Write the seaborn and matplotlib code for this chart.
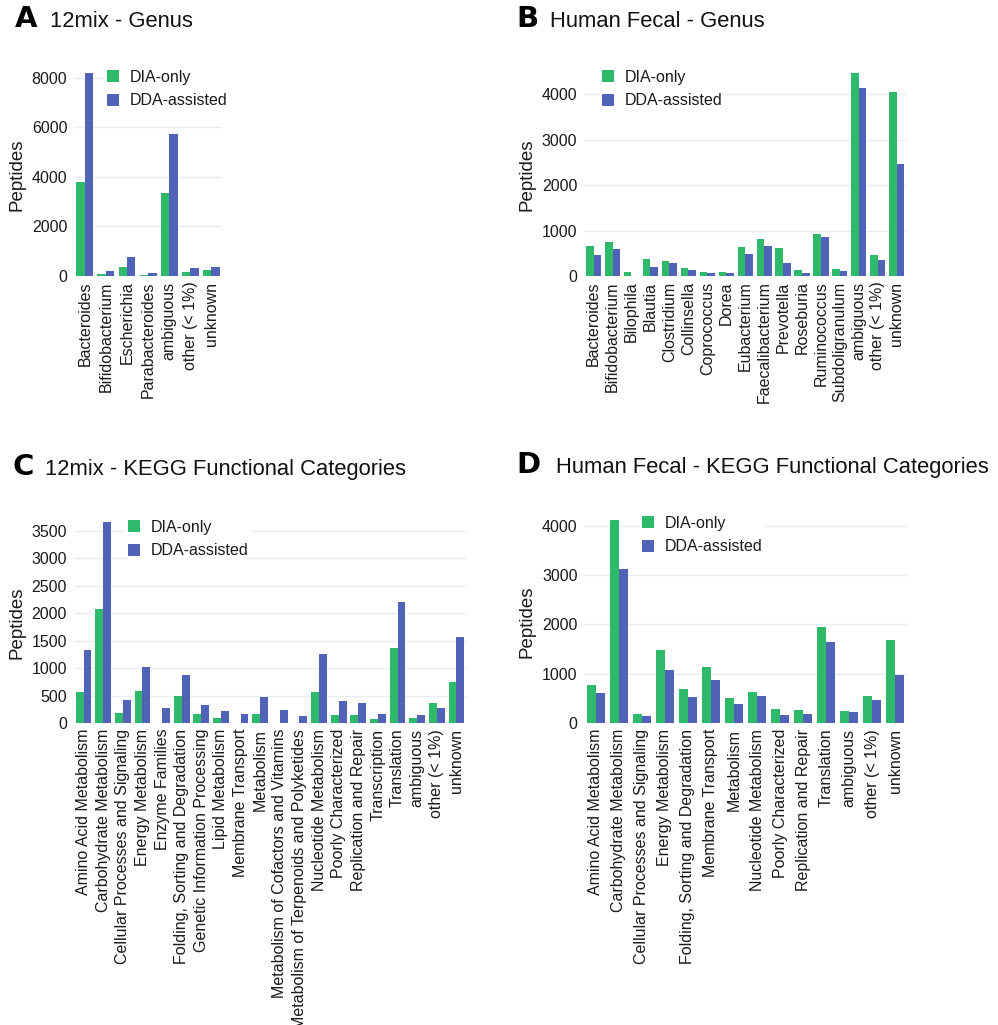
import matplotlib
matplotlib.use("Agg")
import matplotlib.pyplot as plt
import seaborn as sns
import pandas as pd

sns.set_theme(style="white")
plt.rcParams['font.family'] = ['Liberation Sans', 'DejaVu Sans']

series = ["DIA-only", "DDA-assisted"]
colors = ["#2fb96b", "#5063b7"]

# Panel A: 12mix - Genus
a_cats = ["Bacteroides", "Bifidobacterium", "Escherichia", "Parabacteroides",
          "ambiguous", "other (< 1%)", "unknown"]
a_dia = [3800, 80, 350, 50, 3340, 150, 230]
a_dda = [8210, 210, 755, 135, 5750, 335, 375]

# Panel B: Human Fecal - Genus
b_cats = ["Bacteroides", "Bifidobacterium", "Bilophila", "Blautia", "Clostridium",
          "Collinsella", "Coprococcus", "Dorea", "Eubacterium", "Faecalibacterium",
          "Prevotella", "Roseburia", "Ruminococcus", "Subdoligranulum",
          "ambiguous", "other (< 1%)", "unknown"]
b_dia = [652, 740, 80, 366, 337, 176, 88, 88, 637, 806, 623, 139, 916, 161,
         4470, 462, 4040]
b_dda = [462, 600, 5, 205, 286, 139, 60, 73, 484, 652, 278, 66, 850, 117,
         4140, 344, 2462]

# Panel C: 12mix - KEGG Functional Categories
c_cats = ["Amino Acid Metabolism", "Carbohydrate Metabolism",
          "Cellular Processes and Signaling", "Energy Metabolism", "Enzyme Families",
          "Folding, Sorting and Degradation", "Genetic Information Processing",
          "Lipid Metabolism", "Membrane Transport", "Metabolism",
          "Metabolism of Cofactors and Vitamins",
          "Metabolism of Terpenoids and Polyketides", "Nucleotide Metabolism",
          "Poorly Characterized", "Replication and Repair", "Transcription",
          "Translation", "ambiguous", "other (< 1%)", "unknown"]
c_dia = [563, 2081, 182, 587, 0, 490, 176, 90, 0, 176, 0, 0, 563, 145, 157, 72,
         1362, 96, 363, 745]
c_dda = [1337, 3661, 418, 1017, 283, 883, 332, 223, 163, 484, 236, 133, 1259, 411,
         375, 176, 2197, 145, 283, 1573]

# Panel D: Human Fecal - KEGG Functional Categories
d_cats = ["Amino Acid Metabolism", "Carbohydrate Metabolism",
          "Cellular Processes and Signaling", "Energy Metabolism",
          "Folding, Sorting and Degradation", "Membrane Transport", "Metabolism",
          "Nucleotide Metabolism", "Poorly Characterized", "Replication and Repair",
          "Translation", "ambiguous", "other (< 1%)", "unknown"]
d_dia = [775, 4121, 195, 1484, 688, 1140, 512, 640, 296, 276, 1943, 249, 559, 1680]
d_dda = [620, 3117, 142, 1079, 526, 870, 391, 559, 174, 188, 1646, 229, 472, 978]

W, H = 998, 1025
fig = plt.figure(figsize=(W / 100, H / 100), dpi=100)


def px_rect(left, right, top, bottom):
    return [left / W, 1 - bottom / H, (right - left) / W, (bottom - top) / H]


panels = [
    dict(cats=a_cats, dia=a_dia, dda=a_dda, rect=px_rect(74.2, 222, 72.7, 276),
         ticks=[0, 2000, 4000, 6000, 8000], letter="A", title="12mix - Genus",
         lx=15, tx=50, ty=27, legxy=(105, 68), ylab_x=17),
    dict(cats=b_cats, dia=b_dia, dda=b_dda, rect=px_rect(584.1, 906.2, 72.7, 276),
         ticks=[0, 1000, 2000, 3000, 4000], letter="B", title="Human Fecal - Genus",
         lx=516, tx=550, ty=27, legxy=(600, 68), ylab_x=527),
    dict(cats=c_cats, dia=c_dia, dda=c_dda, rect=px_rect(73.7, 466.3, 521.7, 723.3),
         ticks=[0, 500, 1000, 1500, 2000, 2500, 3000, 3500], letter="C",
         title="12mix - KEGG Functional Categories",
         lx=12, tx=45, ty=475, legxy=(126, 518), ylab_x=17),
    dict(cats=d_cats, dia=d_dia, dda=d_dda, rect=px_rect(584.4, 906.6, 519.7, 723.3),
         ticks=[0, 1000, 2000, 3000, 4000], letter="D",
         title="Human Fecal - KEGG Functional Categories",
         lx=516, tx=556, ty=473, legxy=(640, 514), ylab_x=527),
]

for p in panels:
    ax = fig.add_axes(p["rect"])
    df = pd.DataFrame({
        "cat": p["cats"] * 2,
        "val": list(p["dia"]) + list(p["dda"]),
        "series": [series[0]] * len(p["cats"]) + [series[1]] * len(p["cats"]),
    })
    sns.barplot(data=df, x="cat", y="val", hue="series", hue_order=series,
                palette=colors, width=0.8, ax=ax, saturation=1, errorbar=None,
                linewidth=0, legend=True)
    ax.set_xlim(-0.5, len(p["cats"]) - 0.5)
    ax.set_ylim(0, max(max(p["dia"]), max(p["dda"])))
    ax.set_yticks(p["ticks"])
    ax.set_yticklabels([str(t) for t in p["ticks"]], fontsize=11.5, color="#1a1a1a")
    ax.tick_params(axis="x", labelrotation=90, labelsize=11.5, length=0, pad=4,
                   labelcolor="#1a1a1a")
    ax.tick_params(axis="y", length=0, pad=5)
    for s in ax.spines.values():
        s.set_visible(False)
    ax.yaxis.grid(True, color="#e9eef5", linewidth=1)
    ax.xaxis.grid(False)
    ax.set_axisbelow(True)
    ax.set_xlabel("")
    ax.set_ylabel("")
    ycen = 1 - p["rect"][1] - p["rect"][3] / 2
    fig.text(p["ylab_x"] / W, 1 - ycen, "Peptides", rotation=90, ha="center",
             va="center", fontsize=13.5, color="#1a1a1a")
    handles, labels = ax.get_legend_handles_labels()
    ax.get_legend().remove()
    leg = fig.legend(handles, labels, loc="upper left",
                     bbox_to_anchor=(p["legxy"][0] / W, 1 - p["legxy"][1] / H),
                     frameon=True, facecolor="white", edgecolor="none", framealpha=1,
                     fontsize=11.5, handlelength=0.75, handleheight=0.75,
                     handletextpad=0.7, labelspacing=0.55, borderpad=0.1,
                     borderaxespad=0)
    for t in leg.get_texts():
        t.set_color("#1a1a1a")
    fig.text(p["lx"] / W, 1 - p["ty"] / H, p["letter"], fontsize=21,
             fontweight="bold", family="DejaVu Sans", va="baseline", ha="left",
             color="black")
    fig.text(p["tx"] / W, 1 - p["ty"] / H, p["title"], fontsize=15.8,
             va="baseline", ha="left", color="#111111")

fig.savefig("out.png", dpi=100)
